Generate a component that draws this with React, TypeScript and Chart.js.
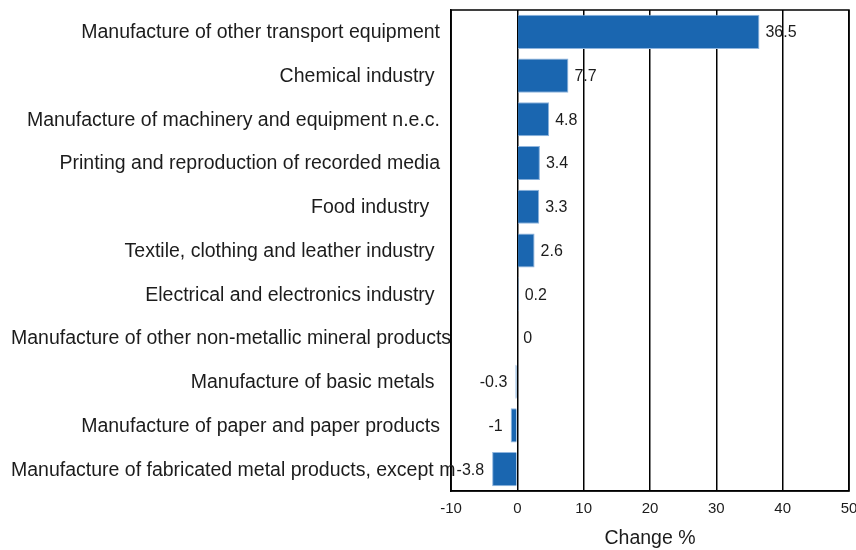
import { useEffect, useRef } from "react";
import { Chart, registerables } from "chart.js";

Chart.register(...registerables);

const categories = [
  "Manufacture of other transport equipment",
  "Chemical industry ",
  "Manufacture of machinery and equipment n.e.c.",
  "Printing and reproduction of recorded media",
  "Food industry  ",
  "Textile, clothing and leather industry ",
  "Electrical and electronics industry ",
  "Manufacture of other non-metallic mineral products",
  "Manufacture of basic metals ",
  "Manufacture of paper and paper products",
  "Manufacture of fabricated metal products, except m",
];
const values = [36.5, 7.7, 4.8, 3.4, 3.3, 2.6, 0.2, 0, -0.3, -1, -3.8];
const xMin = -10;
const xMax = 50;
const xStep = 10;
const axisTitle = "Change %";

const FONT = "'Liberation Sans', Arial, sans-serif";
const TEXT = "#1c1c1c";

export default function App() {
  const ref = useRef<HTMLCanvasElement>(null);

  useEffect(() => {
    document.body.style.margin = "0";
    const canvas = ref.current;
    if (!canvas) return;

    const frame = {
      id: "frame",
      afterDraw(chart: any) {
        const { ctx, chartArea: a } = chart;
        ctx.save();
        ctx.strokeStyle = "#000";
        ctx.lineWidth = 1.5;
        ctx.strokeRect(a.left, a.top, a.right - a.left, a.bottom - a.top);
        ctx.restore();
      },
    };

    const catLabels = {
      id: "catLabels",
      afterDraw(chart: any) {
        const { ctx } = chart;
        const y = chart.scales.y;
        ctx.save();
        ctx.font = `19.5px ${FONT}`;
        ctx.fillStyle = TEXT;
        ctx.textBaseline = "middle";
        ctx.textAlign = "left";
        const rightEdge = y.right - 11;
        categories.forEach((c, i) => {
          const w = ctx.measureText(c).width;
          const x = Math.max(11, rightEdge - w);
          ctx.fillText(c, x, y.getPixelForValue(i) + 1);
        });
        ctx.restore();
      },
    };

    const valueLabels = {
      id: "valueLabels",
      afterDatasetsDraw(chart: any) {
        const { ctx } = chart;
        const meta = chart.getDatasetMeta(0);
        ctx.save();
        ctx.font = `16px ${FONT}`;
        ctx.fillStyle = TEXT;
        ctx.textBaseline = "middle";
        meta.data.forEach((bar: any, i: number) => {
          const v = values[i];
          if (v >= 0) {
            ctx.textAlign = "left";
            ctx.fillText(String(v), bar.x + 6, bar.y + 1);
          } else {
            ctx.textAlign = "right";
            ctx.fillText(String(v), bar.x - 8, bar.y + 1);
          }
        });
        ctx.restore();
      },
    };

    const chart = new Chart(canvas, {
      type: "bar",
      data: {
        labels: categories,
        datasets: [
          {
            data: values,
            backgroundColor: "#1a66b0",
            borderColor: "#8fb5de",
            borderWidth: 1,
            barPercentage: 0.78,
            categoryPercentage: 1,
          },
        ],
      },
      options: {
        indexAxis: "y",
        animation: false,
        responsive: false,
        maintainAspectRatio: false,
        layout: { padding: { top: 10, right: 7, left: 0, bottom: 0 } },
        plugins: {
          legend: { display: false },
          tooltip: { enabled: false },
        },
        scales: {
          x: {
            type: "linear",
            min: xMin,
            max: xMax,
            ticks: {
              stepSize: xStep,
              font: { family: FONT, size: 15 },
              color: TEXT,
              padding: 9,
            },
            grid: { color: "#000", lineWidth: 1.5, drawTicks: false },
            border: { display: true, color: "#000", width: 1.5 },
            title: {
              display: true,
              text: axisTitle,
              font: { family: FONT, size: 19.5 },
              color: TEXT,
              padding: { top: 4, bottom: 0 },
            },
            afterFit(s: any) {
              s.height = 59;
              s.paddingLeft = 0;
              s.paddingRight = 0;
            },
          },
          y: {
            type: "category",
            ticks: { display: false },
            grid: { display: false },
            border: { display: true, color: "#000", width: 1.5 },
            afterFit(s: any) {
              s.width = 451;
              s.paddingTop = 0;
              s.paddingBottom = 0;
            },
          },
        },
      },
      plugins: [frame, catLabels, valueLabels],
    });

    return () => chart.destroy();
  }, []);

  return (
    <div style={{ position: "absolute", left: 0, top: 0, width: 856, height: 550, background: "#fff" }}>
      <canvas ref={ref} width={856} height={550} style={{ width: 856, height: 550 }} />
    </div>
  );
}
